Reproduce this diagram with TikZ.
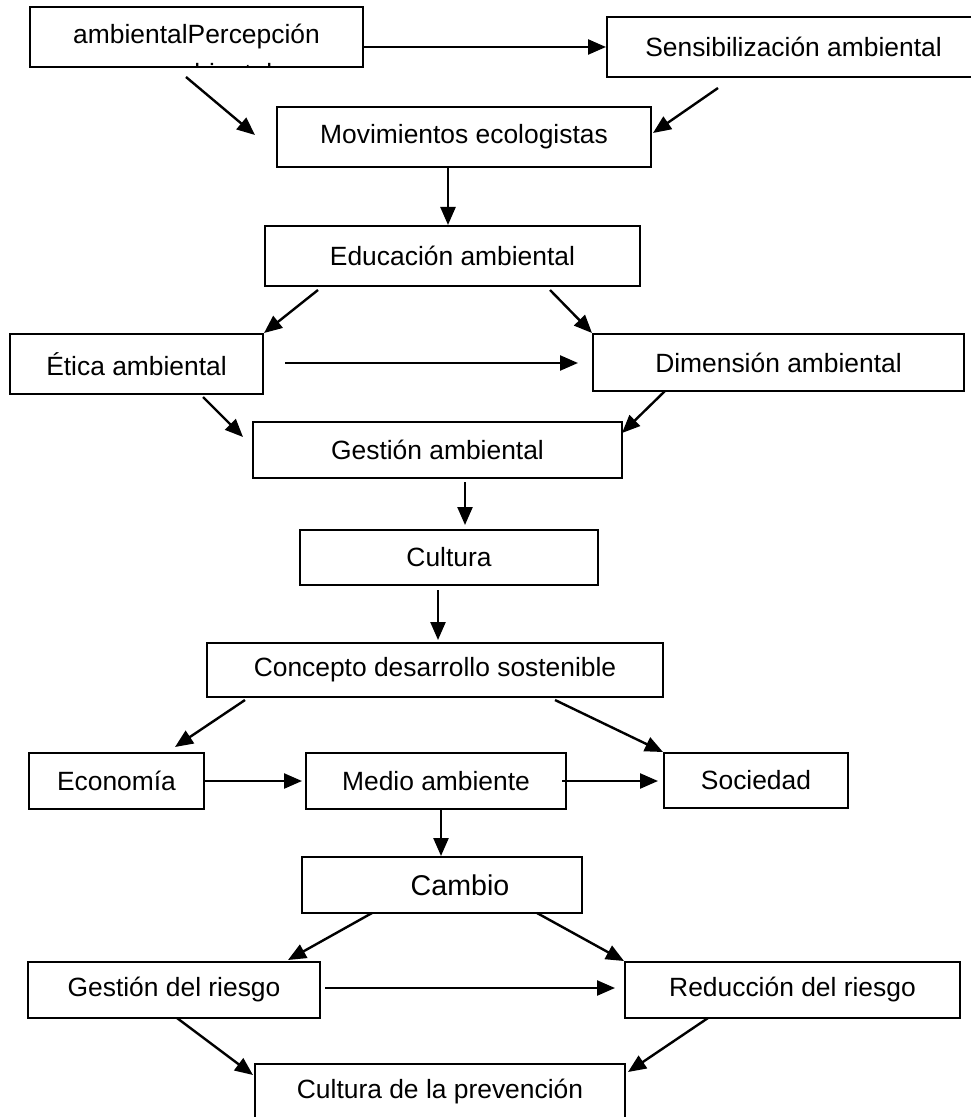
\documentclass[tikz,border=0pt]{standalone}
\usepackage{fontspec}
\setmainfont{Liberation Sans}
\usetikzlibrary{arrows.meta}
\begin{document}
\begin{tikzpicture}[x=0.5pt,y=-0.5pt,
  box/.style={draw, line width=1pt, inner sep=0pt, minimum height=30pt, font=\fontsize{13.2}{15}\selectfont},
  flecha/.style={-{Triangle[length=9pt,width=7.5pt]}, line width=1.2pt}]
\useasboundingbox (0,0) rectangle (970,1117);

% cajas
\node[box, minimum width=166.5pt] (percep) at (196.5,37) {ambientalPercepción};
\begin{scope}
\clip (31,8) rectangle (362,66);
\node[font=\fontsize{13.2}{15}\selectfont, anchor=base, inner sep=0pt] at (215,83) {ambiental};
\end{scope}
\node[box, minimum width=186.5pt] (sens) at (793.5,47) {Sensibilización ambiental};
\node[box, minimum width=187pt] (mov) at (464,137) {Movimientos ecologistas\hspace{21pt}};
\node[box, minimum width=187.5pt] (edu) at (452.5,256) {Educación ambiental};
\node[box, minimum width=126.5pt] (etica) at (136.5,364) {Ética ambiental};
\node[box, minimum width=185.5pt, minimum height=28.5pt] (dimen) at (778.5,362.5) {Dimensión ambiental};
\node[box, minimum width=184.5pt, minimum height=28pt] (gestamb) at (437.5,450) {Gestión ambiental};
\node[box, minimum width=149pt, minimum height=27.5pt] (cultura) at (449,557.5) {Cultura};
\node[box, minimum width=228pt, minimum height=27pt] (concepto) at (435,670) {Concepto desarrollo sostenible};
\node[box, minimum width=87.5pt, minimum height=28pt] (economia) at (116.5,781) {Economía};
\node[box, minimum width=130pt, minimum height=28pt] (medio) at (436,781) {Medio ambiente};
\node[box, minimum width=92pt, minimum height=27.5pt] (sociedad) at (756,780.5) {Sociedad};
\node[box, minimum width=140pt, minimum height=28pt, font=\fontsize{14.3}{16}\selectfont] (cambio) at (442,885) {\hspace{18pt}Cambio};
\node[box, minimum width=146pt, minimum height=28pt] (gestriesgo) at (174,990) {Gestión del riesgo};
\node[box, minimum width=167.5pt, minimum height=28pt] (reduccion) at (792.5,990) {Reducción del riesgo};
\node[box, minimum width=185pt, minimum height=28pt] (prevencion) at (440,1092) {Cultura de la prevención};

% extremos libres
\coordinate (p1) at (186,77);
\coordinate (m1) at (255,135);
\coordinate (s1) at (718,88);
\coordinate (m2) at (653,133);
\coordinate (e1) at (318,290);
\coordinate (e2) at (550,290);
\coordinate (t1) at (285,363);
\coordinate (d1) at (578,363);
\coordinate (t2) at (203,397);
\coordinate (g1) at (243,437);
\coordinate (d2) at (665,391);
\coordinate (g2) at (622,433);
\coordinate (g3) at (465,482);
\coordinate (c1) at (465,525);
\coordinate (c2) at (438,590);
\coordinate (c3) at (438,640);
\coordinate (k1) at (245,700);
\coordinate (k2) at (175,747);
\coordinate (k3) at (555,700);
\coordinate (o1) at (302,781);
\coordinate (o2) at (562,781);
\coordinate (o3) at (658,781);
\coordinate (b1) at (372,913);
\coordinate (b2) at (288,960);
\coordinate (b3) at (537,913);
\coordinate (r1) at (325,988);
\coordinate (r2) at (615,988);
\coordinate (r3) at (177,1018);
\coordinate (r4) at (253,1075);
\coordinate (r5) at (708,1018);
\coordinate (r6) at (628,1072);

% flechas
\draw[flecha] (percep.east |- sens.west) -- (sens.west);
\draw[flecha] (p1) -- (m1);
\draw[flecha] (s1) -- (m2);
\draw[flecha] ([xshift=-8pt]mov.south) -- ([xshift=-2.25pt]edu.north);
\draw[flecha] (e1) -- (etica.north east);
\draw[flecha] (e2) -- (dimen.north west);
\draw[flecha] (t1) -- (d1);
\draw[flecha] (t2) -- (g1);
\draw[flecha] (d2) -- (g2);
\draw[flecha] (g3) -- (c1);
\draw[flecha] (c2) -- (c3);
\draw[flecha] (k1) -- (k2);
\draw[flecha] (k3) -- (sociedad.north west);
\draw[flecha] (economia.east) -- (o1);
\draw[flecha] (o2) -- (o3);
\draw[flecha] ([xshift=2.5pt]medio.south) -- ([xshift=-0.5pt]cambio.north);
\draw[flecha] (b1) -- (b2);
\draw[flecha] (b3) -- (reduccion.north west);
\draw[flecha] (r1) -- (r2);
\draw[flecha] (r3) -- (r4);
\draw[flecha] (r5) -- (r6);
\end{tikzpicture}
\end{document}
